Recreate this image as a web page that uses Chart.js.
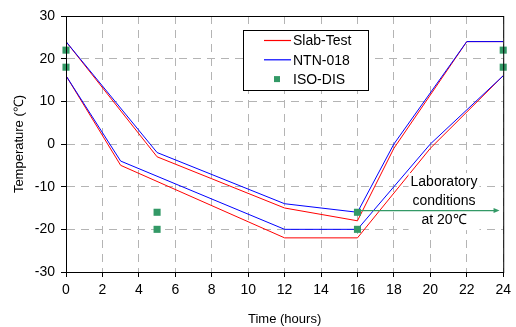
<!DOCTYPE html>
<html>
<head>
<meta charset="utf-8">
<script src="https://cdn.jsdelivr.net/npm/chart.js@4"></script>
<style>
  body { margin: 0; background: #fff; }
</style>
</head>
<body>
<canvas id="myChart" width="516" height="327"></canvas>
<script>
let slabUpperX = [0, 5, 12, 16, 18, 22, 24];
let slabUpperY = [24, -3, -15, -18, -1, 24, 24];
let slabLowerX = [0, 3, 12, 16, 20, 24];
let slabLowerY = [16, -5, -22, -22, -1, 16];
let ntnUpperX = [0, 5, 12, 16, 18, 22, 24];
let ntnUpperY = [24, -2, -14, -16, 0, 24, 24];
let ntnLowerX = [0, 3, 12, 16, 20, 24];
let ntnLowerY = [16, -4, -20, -20, 0, 16];
let isoX = [0, 0, 5, 5, 16, 16, 24, 24];
let isoY = [22, 18, -16, -20, -16, -20, 22, 18];
let labNote = ["Laboratory", "conditions", "at 20\u2103"];

const red = "#FF0000";
const blue = "#0000FF";
const green = "#339966";
const fontFamily = "'Liberation Sans', Arial, sans-serif";

const pts = (xs, ys) => xs.map((x, i) => ({ x: x, y: ys[i] }));

const lineSet = (label, xs, ys, color) => ({
  label: label,
  data: pts(xs, ys),
  showLine: true,
  borderColor: color,
  borderWidth: 1,
  pointRadius: 0,
  fill: false,
});

// legend, frame and note drawn by hand
const extras = {
  id: "extras",
  afterDatasetsDraw(chart) {
    const { ctx, scales: { x, y } } = chart;
    ctx.save();
    // note text with white box
    ctx.font = "14px " + fontFamily;
    ctx.textAlign = "center";
    ctx.textBaseline = "middle";
    const cx = x.getPixelForValue(20.75);
    const cy = y.getPixelForValue(-13.5);
    const lh = 19;
    const w = Math.max(...labNote.map((t) => ctx.measureText(t).width)) + 4;
    ctx.fillStyle = "#fff";
    ctx.fillRect(cx - w / 2, cy - lh * 1.5, w, lh * 3);
    ctx.fillStyle = "#000";
    labNote.forEach((t, i) => ctx.fillText(t, cx, cy + (i - 1) * lh));
    // arrow
    const ay = y.getPixelForValue(-15.6);
    const x1 = x.getPixelForValue(16);
    const x2 = x.getPixelForValue(23.8);
    ctx.strokeStyle = green;
    ctx.fillStyle = green;
    ctx.lineWidth = 1.2;
    ctx.beginPath();
    ctx.moveTo(x1, ay);
    ctx.lineTo(x2 - 4, ay);
    ctx.stroke();
    ctx.beginPath();
    ctx.moveTo(x2, ay);
    ctx.lineTo(x2 - 6, ay - 2.5);
    ctx.lineTo(x2 - 6, ay + 2.5);
    ctx.closePath();
    ctx.fill();
    ctx.restore();
  },
  afterDraw(chart) {
    const { ctx, chartArea: a } = chart;
    ctx.save();
    ctx.strokeStyle = "#000";
    ctx.lineWidth = 1;
    ctx.strokeRect(Math.round(a.left) + 0.5, Math.round(a.top) + 0.5, a.right - a.left, a.bottom - a.top);

    // legend box
    const bx = 243.5, by = 30.5, bw = 125, bh = 60;
    ctx.fillStyle = "#fff";
    ctx.fillRect(bx, by, bw, bh);
    ctx.strokeRect(bx, by, bw, bh);
    const entries = [
      { label: chart.data.datasets[4].label, color: red, kind: "line" },
      { label: chart.data.datasets[2].label, color: blue, kind: "line" },
      { label: chart.data.datasets[0].label, color: green, kind: "rect" },
    ];
    ctx.font = "14px " + fontFamily;
    ctx.textAlign = "left";
    ctx.textBaseline = "middle";
    entries.forEach((e, i) => {
      const ey = 40.5 + i * 19.3;
      if (e.kind === "line") {
        ctx.strokeStyle = e.color;
        ctx.lineWidth = 1.2;
        ctx.beginPath();
        ctx.moveTo(264, ey);
        ctx.lineTo(291, ey);
        ctx.stroke();
      } else {
        ctx.fillStyle = e.color;
        ctx.fillRect(274, ey - 3, 6, 6);
      }
      ctx.fillStyle = "#000";
      ctx.fillText(e.label, 293, ey + 1);
    });
    ctx.restore();
  },
};

const axisCommon = {
  type: "linear",
  grid: {
    color: "#b4b4b4",
    lineWidth: 1,
    tickColor: "#000",
    tickLength: 5,
    tickBorderDash: [],
  },
  border: { display: true, color: "#000", width: 1, dash: [8, 6] },
};

let chart = new Chart(document.getElementById("myChart"), {
  type: "scatter",
  data: {
    datasets: [
      {
        label: "ISO-DIS",
        data: pts(isoX, isoY),
        pointStyle: "rect",
        pointRadius: 5,
        pointBackgroundColor: green,
        pointBorderWidth: 0,
        pointBorderColor: green,
        clip: false,
      },
      lineSet("NTN-018", ntnUpperX, ntnUpperY, blue),
      lineSet("NTN-018", ntnLowerX, ntnLowerY, blue),
      lineSet("Slab-Test", slabUpperX, slabUpperY, red),
      lineSet("Slab-Test", slabLowerX, slabLowerY, red),
    ],
  },
  options: {
    responsive: false,
    animation: false,
    devicePixelRatio: 1,
    layout: { padding: { top: 16, right: 8, left: 0, bottom: 0 } },
    plugins: { legend: { display: false }, tooltip: { enabled: false } },
    scales: {
      x: {
        ...axisCommon,
        min: 0,
        max: 24,
        ticks: { stepSize: 2, color: "#000", padding: 5, font: { size: 14, family: fontFamily } },
        title: { display: true, text: "Time (hours)", color: "#000", padding: 0, font: { size: 13, family: fontFamily } },
        afterFit: (s) => { s.height = 55; },
      },
      y: {
        ...axisCommon,
        min: -30,
        max: 30,
        ticks: { stepSize: 10, color: "#000", padding: 6, font: { size: 14, family: fontFamily } },
        title: { display: true, text: "Temperature (\u2103)", color: "#000", padding: { top: 12, bottom: 0 }, font: { size: 13, family: fontFamily } },
        afterFit: (s) => { s.width = 66; },
      },
    },
  },
  plugins: [extras],
});
</script>
</body>
</html>
